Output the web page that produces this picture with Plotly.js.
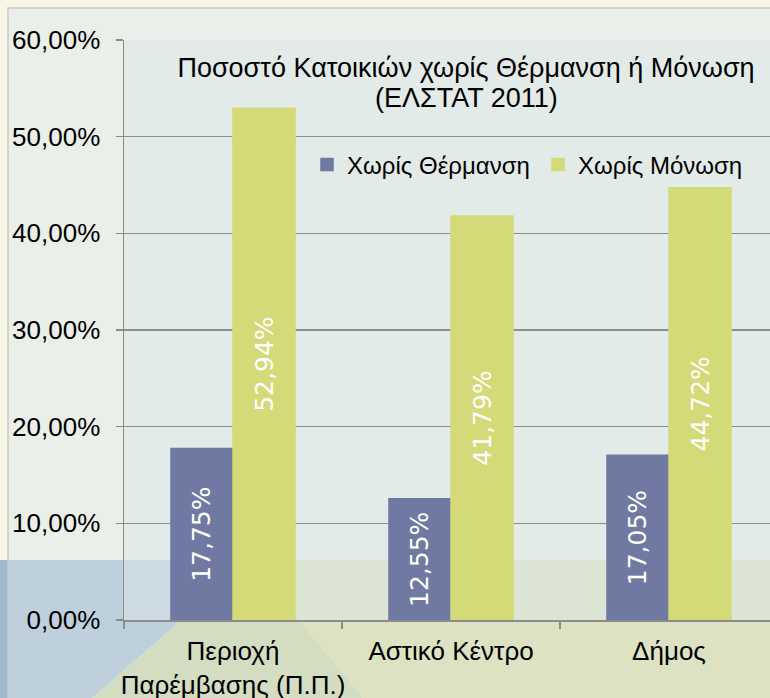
<!DOCTYPE html>
<html>
<head>
<meta charset="utf-8">
<script src="https://cdn.plot.ly/plotly-3.0.1.min.js"></script>
<style>
  html, body { margin: 0; padding: 0; background: #f8f7e6; }
  #chart { width: 770px; height: 698px; }
</style>
</head>
<body>
<div id="chart"></div>
<script>
// ---- data ----
const categories = ['Περιοχή<br>Παρέμβασης (Π.Π.)', 'Αστικό Κέντρο', 'Δήμος'];
const seriesNames = ['Χωρίς Θέρμανση', 'Χωρίς Μόνωση'];
const noHeating = [0.1775, 0.1255, 0.1705];
const noInsulation = [0.5294, 0.4179, 0.4472];
const yTickValues = [0, 0.1, 0.2, 0.3, 0.4, 0.5, 0.6];
const titleLine1 = 'Ποσοστό Κατοικιών χωρίς Θέρμανση ή Μόνωση';
const titleLine2 = '(ΕΛΣΤΑΤ 2011)';

// ---- layout helpers (pixel -> paper) ----
const W = 770, H = 698;
const PL = 124, PR = 770, PT = 40, PB = 620;
const X = px => (px - PL) / (PR - PL);
const Y = py => (PB - py) / (PB - PT);

const FONT = 'Liberation Sans, Arial, sans-serif';
const LABEL_FONT = { family: 'DejaVu Sans, sans-serif', size: 25, color: '#ffffff' };

const traces = [
  {
    type: 'bar', name: seriesNames[0], x: categories, y: noHeating,
    marker: { color: '#6f79a1', line: { color: '#6f79a1', width: 1.5 } },
    texttemplate: '%{y:.2%}', textposition: 'inside', insidetextanchor: 'middle',
    textangle: -90, constraintext: 'none', insidetextfont: LABEL_FONT,
    hoverinfo: 'skip'
  },
  {
    type: 'bar', name: seriesNames[1], x: categories, y: noInsulation,
    marker: { color: '#d4da78', line: { color: '#d4da78', width: 1.5 } },
    texttemplate: '%{y:.2%}', textposition: 'inside', insidetextanchor: 'middle',
    textangle: -90, constraintext: 'none', insidetextfont: LABEL_FONT,
    hoverinfo: 'skip'
  }
];

function path(points) {
  return 'M' + points.map(p => X(p[0]).toFixed(5) + ',' + Y(p[1]).toFixed(5)).join(' L') + ' Z';
}

const shapes = [
  // bottom band: blue left, green triangle, yellow-green right
  { type: 'path', xref: 'paper', yref: 'paper', layer: 'below',
    path: path([[0, 560], [250, 560], [92, 698], [0, 698]]),
    fillcolor: '#a0b8cd', line: { width: 0 } },
  { type: 'path', xref: 'paper', yref: 'paper', layer: 'below',
    path: path([[250, 560], [92, 698], [363, 698]]),
    fillcolor: '#cad297', line: { width: 0 } },
  { type: 'path', xref: 'paper', yref: 'paper', layer: 'below',
    path: path([[250, 560], [772, 560], [772, 698], [363, 698]]),
    fillcolor: '#dede98', line: { width: 0 } },
  // chart area
  { type: 'rect', xref: 'paper', yref: 'paper', layer: 'below',
    x0: X(8), x1: X(780), y0: Y(8), y1: Y(710),
    fillcolor: 'rgba(220,232,235,0.5)', line: { color: '#c8c8c8', width: 1.5 } },
  // plot area
  { type: 'rect', xref: 'paper', yref: 'paper', layer: 'below',
    x0: 0, x1: 1, y0: 0, y1: 1,
    fillcolor: 'rgba(219,230,231,0.49)', line: { width: 0 } }
];

const layout = {
  width: W, height: H,
  margin: { l: PL, r: W - PR, t: PT, b: H - PB, pad: 0, autoexpand: false },
  paper_bgcolor: '#f8f7e6',
  plot_bgcolor: 'rgba(0,0,0,0)',
  separators: ',.',
  font: { family: FONT, color: '#000000' },
  barmode: 'group',
  bargap: 0.431,
  bargroupgap: 0,
  showlegend: true,
  title: {
    text: titleLine1,
    font: { family: FONT, size: 27, color: '#000000' },
    xref: 'paper', x: X(466), xanchor: 'center',
    yref: 'paper', y: Y(68), yanchor: 'middle'
  },
  annotations: [
    { text: titleLine2, xref: 'paper', yref: 'paper', x: X(466), y: Y(98),
      xanchor: 'center', yanchor: 'middle', showarrow: false,
      font: { family: FONT, size: 27, color: '#000000' } }
  ],
  legend: {
    orientation: 'h',
    x: X(307), xanchor: 'left',
    y: Y(165), yanchor: 'middle',
    bgcolor: 'rgba(0,0,0,0)',
    font: { family: FONT, size: 24, color: '#000000' },
    entrywidth: 186, entrywidthmode: 'pixels',
    traceorder: 'normal'
  },
  xaxis: {
    type: 'category',
    range: [-0.5, -0.5 + (PR - PL) / 218],
    automargin: false,
    tickangle: 0,
    showline: true, linecolor: '#8c8c8c', linewidth: 1.5,
    ticks: 'outside', ticklen: 7, tickcolor: '#8c8c8c', tickwidth: 1.5,
    tickson: 'boundaries',
    ticklabelstandoff: 7,
    showgrid: false, zeroline: false,
    tickfont: { family: FONT, size: 26, color: '#000000' },
    fixedrange: true
  },
  yaxis: {
    range: [0, 0.6],
    automargin: false,
    tickvals: yTickValues,
    tickformat: '.2%',
    showline: true, linecolor: '#8c8c8c', linewidth: 1.5,
    ticks: 'outside', ticklen: 7, tickcolor: '#8c8c8c', tickwidth: 1.5,
    showgrid: true, gridcolor: '#8e8e8e', gridwidth: 1.5,
    zeroline: false,
    ticklabelstandoff: 10,
    tickfont: { family: FONT, size: 26, color: '#000000' },
    fixedrange: true
  },
  shapes: shapes
};

Plotly.newPlot('chart', traces, layout, { staticPlot: true, displayModeBar: false });
</script>
</body>
</html>
